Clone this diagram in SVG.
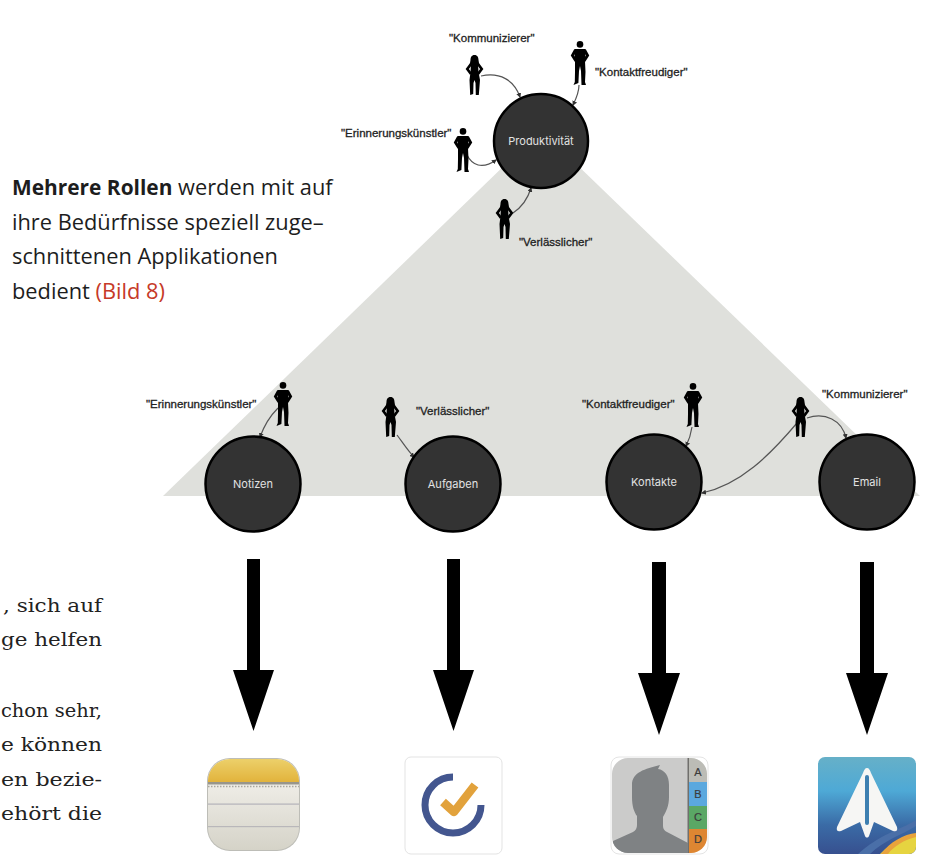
<svg xmlns="http://www.w3.org/2000/svg" width="928" height="863" viewBox="0 0 928 863">
<style>
.body{font-family:"Open Sans","Noto Sans",sans-serif;font-size:21.8px;fill:#1d1d1d}
.ser{font-family:"DejaVu Serif",serif;font-size:19px;fill:#222}
.lab{font-family:"Liberation Sans",Arial,sans-serif;font-size:11.5px;fill:#222;stroke:#222;stroke-width:.3}
.node{fill:#333;stroke:#000;stroke-width:2.5}
.nt{font-family:"Inter","Noto Sans",sans-serif;font-size:11px;fill:#e2e2e2;text-anchor:middle}
.c{fill:none;stroke:#555;stroke-width:1.2;marker-end:url(#a)}
.big{fill:#000}
.tab{font-family:"Liberation Sans",Arial,sans-serif;font-size:11px;fill:#3c3c3c;text-anchor:middle;stroke:#3c3c3c;stroke-width:.2}
</style>
<defs>
<marker id="a" markerWidth="5" markerHeight="5" refX="4" refY="2.5" orient="auto" markerUnits="userSpaceOnUse"><path d="M0 0L5 2.5L0 5z" fill="#333"/></marker>
<symbol id="man" viewBox="0 0 18 44" overflow="visible">
<circle cx="9" cy="3.4" r="3.3" fill="#000"/>
<path d="M3.500 8L14.500 8L14 20L14.500 31L14 41L15 44L10.500 44L10 30L9 25L8 30L7.400 42L2.500 44L3.800 41L4 31L4 20Z" fill="#000"/>
<path d="M4.500 9L1.500 14.500L5 20M13.500 9L16.500 14.500L13 20" fill="none" stroke="#000" stroke-width="3"/>
</symbol>
<symbol id="woman" viewBox="0 0 17 40" overflow="visible">
<path d="M8.500 0C11.500 0 12.500 2.500 12.500 5L13.500 11L3.500 11L4.500 5C4.500 2.500 5.500 0 8.500 0Z" fill="#000"/>
<path d="M5 8L12 8L12.500 17L14 25L12.800 40L9.800 40L9.500 28L8.500 25L7.500 28L7.200 39L4.200 40L3.500 25L4.500 17Z" fill="#000"/>
<path d="M5 9L1.300 14L5 19M12 9L15.700 14L12 19" fill="none" stroke="#000" stroke-width="2.700"/>
</symbol>
<linearGradient id="yel" x1="0" y1="0" x2="0" y2="1"><stop offset="0" stop-color="#ecd06a"/><stop offset="1" stop-color="#e2b33c"/></linearGradient>
<linearGradient id="pap" x1="0" y1="0" x2="0" y2="1"><stop offset="0" stop-color="#f8f6f2"/><stop offset="1" stop-color="#d5d3c8"/></linearGradient>
<linearGradient id="sp" x1="0" y1="0" x2="0" y2="1"><stop offset="0" stop-color="#66b0c8"/><stop offset=".35" stop-color="#4ea9d6"/><stop offset=".7" stop-color="#3a6ba6"/><stop offset="1" stop-color="#37508f"/></linearGradient>
<clipPath id="cn"><rect x="208" y="759" width="91" height="91" rx="22"/></clipPath>
<clipPath id="cc"><rect x="612" y="758" width="95" height="95" rx="16"/></clipPath>
<clipPath id="cs"><rect x="818" y="757" width="98" height="97" rx="7"/></clipPath>
</defs>
<rect width="928" height="863" fill="#fff"/>
<polygon id="triangle" points="163,496 541,130 920,496" fill="#dfe0dc"/>
<g id="text-left">
<text class="body" x="12" y="195"><tspan font-weight="700" font-size="20.900">Mehrere Rollen</tspan> werden mit auf</text>
<text class="body" x="12" y="230">ihre Bedürfnisse speziell zuge–</text>
<text class="body" x="12" y="264">schnittenen Applikationen</text>
<text class="body" x="12" y="299">bedient <tspan fill="#c63a28">(Bild 8)</tspan></text>
<text class="ser" x="3" y="612" textLength="99" lengthAdjust="spacingAndGlyphs">, sich auf</text>
<text class="ser" x="1" y="646" textLength="101" lengthAdjust="spacingAndGlyphs">ge helfen</text>
<text class="ser" x="1" y="717" textLength="101" lengthAdjust="spacingAndGlyphs">chon sehr,</text>
<text class="ser" x="1" y="751" textLength="101" lengthAdjust="spacingAndGlyphs">e können</text>
<text class="ser" x="1" y="786" textLength="101" lengthAdjust="spacingAndGlyphs">en bezie-</text>
<text class="ser" x="1" y="820" textLength="101" lengthAdjust="spacingAndGlyphs">ehört die</text>
</g>
<g id="connectors">
<path class="c" d="M481 76C500 72 514 80 520 97"/>
<path class="c" d="M579 85C579 92 576 99 573 105"/>
<path class="c" d="M467 155C472 165 482 170 496 160"/>
<path class="c" d="M513 213C522 207 528 198 531 188"/>
<path class="c" d="M278 408C270 416 264 426 260 437"/>
<path class="c" d="M397 435C403 443 408 451 414 457"/>
<path class="c" d="M692 427C691 434 689 440 686 446"/>
<path class="c" d="M797 423C770 455 740 485 702 493"/>
<path class="c" d="M807 418C825 412 842 420 846 438"/>
<g class="big">
<path d="M247 559H260V670H274L253.500 731L233 670H247Z"/>
<path d="M447 559H460V670H474L453.500 731L433 670H447Z"/>
<path d="M652 562H666V673H680L659 735L638 673H652Z"/>
<path d="M860 562H874V673H888L867 735L846 673H860Z"/>
</g>
</g>
<g id="node-produktivitaet"><circle class="node" cx="541" cy="141" r="47"/><text class="nt" x="541" y="145">Produktivität</text></g>
<g id="node-notizen"><circle class="node" cx="253" cy="484" r="47.500"/><text class="nt" x="253" y="488">Notizen</text></g>
<g id="node-aufgaben"><circle class="node" cx="453" cy="484" r="47.500"/><text class="nt" x="453" y="488">Aufgaben</text></g>
<g id="node-kontakte"><circle class="node" cx="654" cy="482" r="47.500"/><text class="nt" x="654" y="486">Kontakte</text></g>
<g id="node-email"><circle class="node" cx="867" cy="482" r="47.500"/><text class="nt" x="867" y="486">Email</text></g>
<g id="role-kommunizierer-top"><use href="#woman" x="466" y="55" width="17" height="40"/><text class="lab" x="449" y="42">"Kommunizierer"</text></g>
<g id="role-kontaktfreudiger-top"><use href="#man" x="571" y="41" width="18" height="44"/><text class="lab" x="595" y="76">"Kontaktfreudiger"</text></g>
<g id="role-erinnerung-top"><use href="#man" x="454" y="128" width="18" height="44"/><text class="lab" x="341" y="137">"Erinnerungskünstler"</text></g>
<g id="role-verlaesslich-top"><use href="#woman" x="496" y="199" width="17" height="40"/><text class="lab" x="519" y="246">"Verlässlicher"</text></g>
<g id="role-erinnerung"><use href="#man" x="274" y="382" width="18" height="44"/><text class="lab" x="146" y="408">"Erinnerungskünstler"</text></g>
<g id="role-verlaesslich"><use href="#woman" x="382" y="397" width="17" height="40"/><text class="lab" x="416" y="415">"Verlässlicher"</text></g>
<g id="role-kontaktfreudiger"><use href="#man" x="684" y="383" width="18" height="44"/><text class="lab" x="582" y="408">"Kontaktfreudiger"</text></g>
<g id="role-kommunizierer"><use href="#woman" x="792" y="397" width="17" height="40"/><text class="lab" x="822" y="398">"Kommunizierer"</text></g>
<g id="icon-notes">
<rect x="207" y="758" width="93" height="93" rx="23" fill="#bdbdb7"/>
<g clip-path="url(#cn)">
<rect x="208" y="759" width="91" height="91" fill="url(#pap)"/>
<rect x="208" y="759" width="91" height="23" fill="url(#yel)"/>
<rect x="208" y="782" width="91" height="2.500" fill="#97958c"/>
<line x1="208" y1="786.500" x2="299" y2="786.500" stroke="#a8a69f" stroke-width="1.400" stroke-dasharray="1.500 1.500"/>
<rect x="208" y="803.500" width="91" height="1.200" fill="#b4b3ba"/>
<rect x="208" y="826" width="91" height="1.200" fill="#b9b7ba"/>
</g>
</g>
<g id="icon-tick">
<rect x="405" y="757" width="97" height="97" rx="6" fill="#fff" stroke="#e3e3e3"/>
<path d="M453 777A28 28 0 1 0 481 805" fill="none" stroke="#43568f" stroke-width="7"/>
<path d="M443 802L454 812L475 785" fill="none" stroke="#e2a23c" stroke-width="8.500" stroke-linejoin="round"/>
</g>
<g id="icon-contacts">
<rect x="611" y="757" width="97" height="97" rx="8" fill="#fff" stroke="#e4e4e4"/>
<g clip-path="url(#cc)">
<rect x="612" y="758" width="76" height="95" fill="#cbcbca"/>
<rect x="688" y="758" width="19" height="24" fill="#bcbcb6"/>
<rect x="688" y="782" width="19" height="24" fill="#5ba8de"/>
<rect x="688" y="806" width="19" height="23" fill="#5aa765"/>
<rect x="688" y="829" width="19" height="24" fill="#de8632"/>
<rect x="687.500" y="758" width="1.500" height="95" fill="#706f6c"/>
<path d="M613 841L633 832Q637 830 637 825L637 816C634 812 632 806 632 797L632 785C632 772 645 769 660 765L658 769C665 770 669 776 669 785L669 797C669 806 666 812 663 817L663 826Q663 830 667 832L688 843V853H612Z" fill="#7f8284"/>
</g>
<text class="tab" x="698" y="776">A</text><text class="tab" x="698" y="798">B</text><text class="tab" x="698" y="821">C</text><text class="tab" x="698" y="843">D</text>
</g>
<g id="icon-spark">
<g clip-path="url(#cs)">
<rect x="818" y="757" width="98" height="97" fill="url(#sp)"/>
<path d="M858 854C880 834 900 830 916 820V826C900 836 884 840 870 854Z" fill="#4a6fa8"/>
<path d="M880 854C892 842 904 836 916 834V854Z" fill="#e6d440"/>
<path d="M881 854C890 842 904 834 916 833V837C904 840 894 846 888 854Z" fill="#e8a33c"/>
</g>
<path d="M867 768C869 768 870 770 871 773L897 827C898 831 896 832 893 831L874 822L869 836C868 838 866 838 865 836L860 822L841 831C838 832 836 831 837 827L863 773C864 770 865 768 867 768Z" fill="#f6f6f4"/>
<rect x="865" y="775" width="4" height="50" rx="2" fill="#3d7fb0"/>
</g>
</svg>
